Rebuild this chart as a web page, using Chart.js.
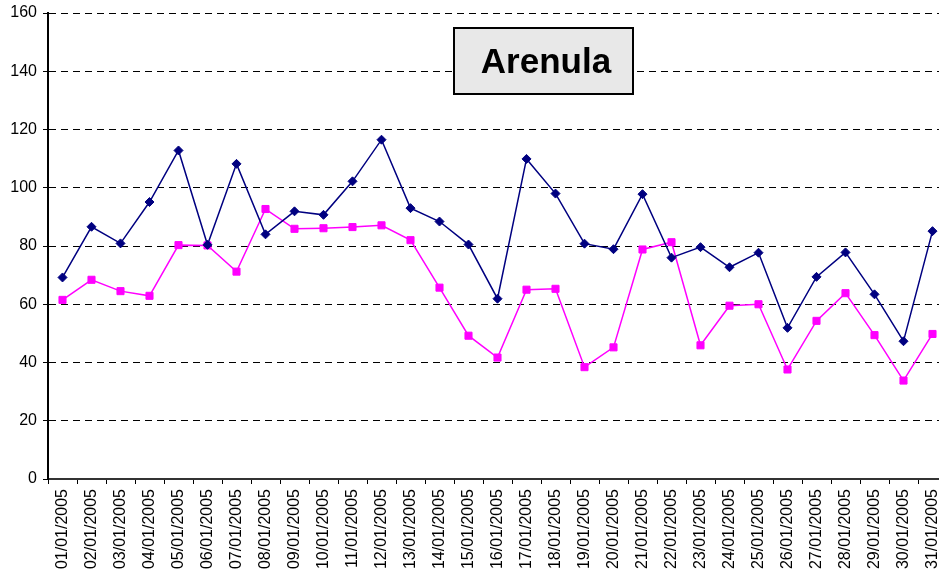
<!DOCTYPE html>
<html>
<head>
<meta charset="utf-8">
<script src="https://cdn.jsdelivr.net/npm/chart.js@4/dist/chart.umd.min.js"></script>
<style>
    html, body { margin: 0; padding: 0; background: #fff; overflow: hidden; }
    #wrap { width: 953px; height: 574px; position: relative; }
</style>
</head>
<body>
<div id="wrap"><canvas id="myChart"></canvas></div>
<script>
const dates = [
    "01/01/2005", "02/01/2005", "03/01/2005", "04/01/2005", "05/01/2005", "06/01/2005",
    "07/01/2005", "08/01/2005", "09/01/2005", "10/01/2005", "11/01/2005", "12/01/2005",
    "13/01/2005", "14/01/2005", "15/01/2005", "16/01/2005", "17/01/2005", "18/01/2005",
    "19/01/2005", "20/01/2005", "21/01/2005", "22/01/2005", "23/01/2005", "24/01/2005",
    "25/01/2005", "26/01/2005", "27/01/2005", "28/01/2005", "29/01/2005", "30/01/2005",
    "31/01/2005"
];

// serie blu (rombi)
const serieBlu = [
    69.2, 86.6, 80.9, 95.1, 112.8, 80.4, 108.2, 84.0, 91.9, 90.7,
    102.2, 116.5, 93.0, 88.4, 80.5, 61.9, 109.9, 98.0, 80.8, 78.9,
    97.8, 76.0, 79.6, 72.7, 77.7, 51.9, 69.4, 77.8, 63.4, 47.3, 85.1
];

// serie magenta (quadrati)
const serieMagenta = [
    61.5, 68.4, 64.5, 62.9, 80.3, 80.2, 71.2, 92.7, 85.9, 86.1,
    86.5, 87.1, 82.0, 65.7, 49.2, 41.7, 65.0, 65.3, 38.4, 45.2,
    78.8, 81.3, 45.9, 59.5, 60.0, 37.6, 54.3, 63.8, 49.4, 33.8, 49.8
];

const yTicks = [0, 20, 40, 60, 80, 100, 120, 140, 160];
const titolo = "Arenula";

// riquadro del titolo disegnato sopra il grafico
const titleBox = {
    id: "titleBox",
    afterDraw(chart) {
        const ctx = chart.ctx;
        ctx.save();
        ctx.fillStyle = "#e8e8e8";
        ctx.fillRect(454, 28, 179, 66);
        ctx.lineWidth = 2;
        ctx.strokeStyle = "#000";
        ctx.strokeRect(454, 28, 179, 66);
        ctx.fillStyle = "#000";
        ctx.font = "bold 35px 'Liberation Sans', Arial, sans-serif";
        ctx.textAlign = "center";
        ctx.textBaseline = "middle";
        ctx.fillText(titolo, 546, 63);
        ctx.restore();
    }
};

const ctx = document.getElementById("myChart").getContext("2d");
new Chart(ctx, {
    type: "line",
    data: {
        labels: dates,
        datasets: [{
            data: serieBlu,
            borderColor: "#000080",
            backgroundColor: "#000080",
            borderWidth: 1.5,
            pointStyle: "rectRot",
            pointRadius: 4.5,
            pointBorderWidth: 1,
            tension: 0,
            fill: false
        }, {
            data: serieMagenta,
            borderColor: "#ff00ff",
            backgroundColor: "#ff00ff",
            borderWidth: 1.5,
            pointStyle: "rect",
            pointRadius: 5,
            pointBorderWidth: 1,
            tension: 0,
            fill: false
        }]
    },
    options: {
        responsive: true,
        maintainAspectRatio: false,
        animation: false,
        layout: { padding: { top: 13, left: 0, right: 0, bottom: 0 } },
        plugins: {
            legend: { display: false },
            tooltip: { enabled: false },
            title: { display: false }
        },
        scales: {
            x: {
                offset: true,
                grid: {
                    offset: true,
                    drawOnChartArea: false,
                    drawTicks: true,
                    tickLength: 5,
                    tickColor: "#000"
                },
                border: { display: true, color: "#333", width: 2 },
                ticks: {
                    autoSkip: false,
                    minRotation: 90,
                    maxRotation: 90,
                    padding: 5,
                    color: "#000",
                    font: { family: "'Liberation Sans', Arial, sans-serif", size: 16 }
                },
                afterFit(scale) {
                    scale.height = 95;
                    scale.paddingLeft = 0;
                    scale.paddingRight = 0;
                }
            },
            y: {
                min: 0,
                max: 160,
                afterBuildTicks(scale) {
                    scale.ticks = yTicks.map(v => ({ value: v }));
                },
                grid: {
                    color: "#000",
                    lineWidth: 1,
                    tickLength: 5,
                    tickColor: "#000",
                    tickBorderDash: []
                },
                border: { display: true, color: "#000", width: 2, dash: [7, 5] },
                ticks: {
                    padding: 6,
                    color: "#000",
                    font: { family: "'Liberation Sans', Arial, sans-serif", size: 16 }
                },
                afterFit(scale) {
                    scale.width = 48;
                    scale.paddingTop = 0;
                    scale.paddingBottom = 0;
                }
            }
        }
    },
    plugins: [titleBox]
});
</script>
</body>
</html>
